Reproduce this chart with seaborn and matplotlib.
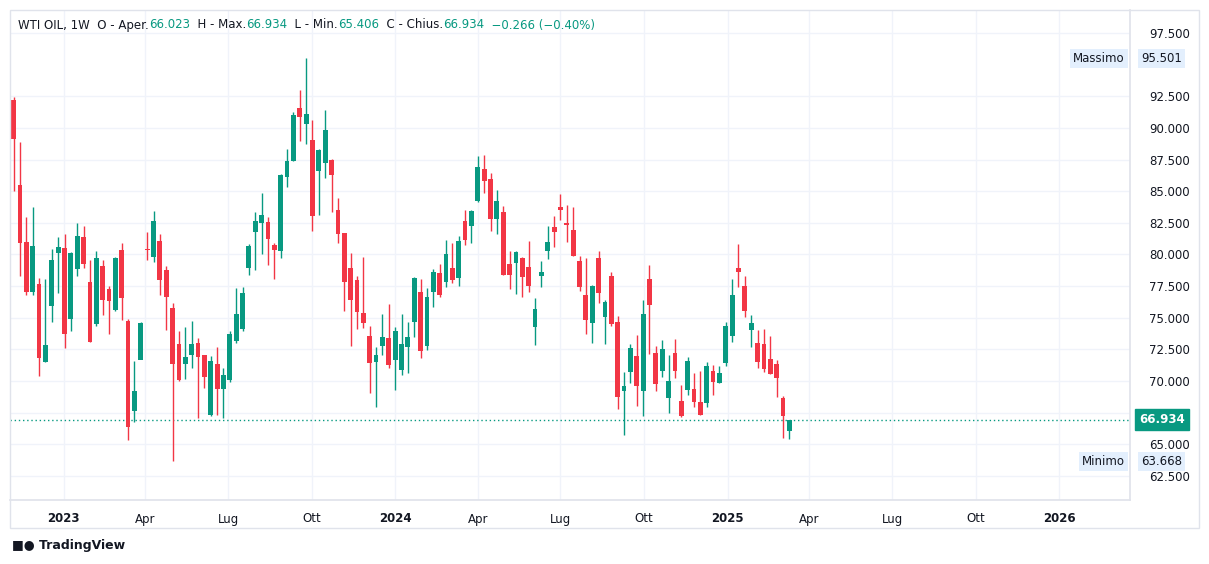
import matplotlib
matplotlib.use("Agg")
import matplotlib.pyplot as plt
import matplotlib.dates as mdates
import numpy as np
import pandas as pd
import seaborn as sns

opens = [92.24,85.53,80.97,77.03,77.63,71.5,75.92,80.1,80.55,74.92,78.84,81.42,77.79,74.5,79.13,77.24,75.61,80.39,74.71,67.63,
         71.68,80.39,79.79,81.03,78.74,75.74,72.89,71.34,72.05,72.97,72.03,67.32,71.32,69.37,70.08,73.16,74.11,78.92,81.76,82.47,
         82.55,80.74,80.26,86.11,87.37,91.61,90.29,89.03,86.58,87.21,87.5,83.55,81.66,78.97,77.97,75.34,73.55,71.5,72.76,73.39,
         71.66,70.87,72.68,74.66,77.0,72.76,77.03,78.5,77.82,78.97,78.13,82.61,82.24,84.21,86.79,86.0,82.79,83.32,79.21,79.32,
         79.76,79.05,74.26,78.29,80.26,82.16,83.74,82.47,81.97,79.45,76.76,74.58,79.76,75.05,78.34,74.63,69.21,70.71,71.97,69.21,
         78.05,72.21,70.79,68.66,72.21,68.42,69.29,69.37,68.34,68.26,70.79,69.84,71.42,73.55,78.97,77.5,74.03,73.0,72.92,71.74,
         71.34,68.66,66.023]
highs = [92.45,88.87,82.95,83.74,78.18,78.03,80.47,81.37,81.58,80.18,82.47,82.29,79.6,80.24,79.6,77.5,79.84,80.87,74.87,71.55,
         74.66,81.76,83.47,81.58,79.13,76.13,73.92,74.26,74.71,73.39,72.03,71.95,72.68,71.0,73.92,77.34,77.42,80.79,83.32,84.89,
         82.95,80.87,86.39,88.32,91.24,93.03,95.501,90.61,88.32,91.39,87.58,84.45,81.66,80.1,78.29,79.84,74.34,72.68,75.26,76.08,
         74.26,75.29,74.66,78.26,78.1,77.34,78.89,79.21,81.11,80.87,81.5,83.55,83.55,87.82,87.89,86.47,85.08,83.82,80.26,80.24,
         79.84,81.03,76.55,79.45,82.24,83.03,84.76,83.89,83.74,79.92,79.74,77.58,80.26,76.39,78.58,75.13,70.71,72.92,73.63,76.39,
         79.16,72.76,73.24,72.05,73.32,69.68,71.89,70.63,70.79,71.5,71.26,71.18,74.66,78.05,80.82,78.34,75.21,74.03,74.11,73.55,
         71.66,68.82,66.934]
lows = [85.0,78.29,76.79,76.79,70.39,71.5,74.66,76.95,72.6,73.95,78.29,78.92,73.08,74.34,75.21,73.71,75.53,74.82,65.34,66.79,
        72.16,79.55,79.39,76.79,74.03,63.668,70.0,70.16,71.03,67.08,69.42,67.24,67.32,67.08,69.92,73.0,73.95,78.37,78.76,80.03,
        79.18,78.05,79.71,85.32,87.37,88.95,88.71,81.84,83.1,86.03,83.34,80.89,75.53,72.76,74.11,74.18,69.05,67.95,72.05,71.0,
        69.29,70.47,70.63,73.47,71.82,72.45,75.84,76.63,77.42,77.74,77.5,80.74,80.89,84.13,84.84,81.84,81.61,78.37,77.26,76.87,
        76.63,77.03,72.84,77.42,79.63,80.58,82.71,80.97,79.87,77.11,73.71,72.97,76.16,72.89,74.34,67.79,65.74,69.84,68.03,67.24,
        72.13,69.21,70.32,67.47,70.24,67.16,68.89,67.95,67.32,67.95,68.89,69.84,71.18,73.08,77.42,75.05,72.68,71.03,70.71,70.55,
        68.74,65.5,65.406]
closes = [89.13,80.92,77.03,80.71,71.82,72.87,79.53,80.63,73.71,80.08,81.5,79.24,73.08,79.76,76.39,76.32,79.76,76.55,66.37,69.18,
          74.61,80.34,82.68,77.97,76.63,71.34,70.08,71.87,72.89,71.89,70.32,71.55,69.37,70.45,73.68,75.26,76.95,80.71,82.68,83.1,
          81.21,80.34,86.32,87.42,91.05,90.84,91.13,83.03,88.24,89.82,86.26,81.61,77.82,76.39,75.45,74.58,71.42,72.05,73.47,71.26,
          73.95,72.89,73.47,78.18,72.37,76.61,78.58,76.79,80.0,77.97,81.03,81.13,83.47,86.95,85.79,82.79,84.26,78.37,78.37,80.16,
          78.21,77.5,75.66,78.58,80.95,81.76,83.5,82.32,79.87,77.42,74.82,77.5,76.95,76.24,74.5,68.74,69.58,72.61,69.61,75.26,
          76.0,69.76,72.53,70.0,70.79,67.24,71.58,68.34,67.32,71.18,69.92,70.63,74.34,76.79,78.61,75.53,74.58,71.5,70.95,70.55,
          70.24,67.24,66.934]
dates = pd.date_range(end="2025-03-10", periods=len(opens), freq="7D")
yticks = [62.5, 65.0, 67.5, 70.0, 72.5, 75.0, 77.5, 80.0, 82.5, 85.0, 87.5, 90.0, 92.5, 97.5]
xtick_dates = ["2023-01-01","2023-04-01","2023-07-01","2023-10-01","2024-01-01","2024-04-01","2024-07-01","2024-10-01",
               "2025-01-01","2025-04-01","2025-07-01","2025-10-01","2026-01-01"]
xtick_labels = ["2023","Apr","Lug","Ott","2024","Apr","Lug","Ott","2025","Apr","Lug","Ott","2026"]

GREEN, RED = "#089981", "#F23645"
sns.set_theme(style="white")
df = pd.DataFrame({"date": dates, "open": opens, "high": highs, "low": lows, "close": closes})
df["up"] = df["close"] >= df["open"]

fig = plt.figure(figsize=(12.09, 5.64), dpi=100)
ax = fig.add_axes([10/1209, 64/564, 1120/1209, 490/564])
x = mdates.date2num(df["date"])
cols = np.where(df["up"], GREEN, RED)
ax.vlines(x, df["low"], df["high"], colors=cols, linewidth=1.0, zorder=3)
bottom = np.minimum(df["open"], df["close"])
height = np.maximum(np.abs(df["close"] - df["open"]), 0.1)
ax.bar(x, height, bottom=bottom, width=5.3, color=cols, zorder=4, linewidth=0)

ax.set_xlim(mdates.date2num(pd.Timestamp("2022-11-03")), mdates.date2num(pd.Timestamp("2026-03-20")))
ax.set_ylim(60.6, 99.32)
ax.yaxis.tick_right()
ax.set_yticks(yticks)
ax.set_yticklabels([f"{v:.3f}" for v in yticks], fontsize=8.5, color="#131722")
xt = mdates.date2num(pd.to_datetime(xtick_dates))
ax.set_xticks(xt)
ax.set_xticklabels(xtick_labels, fontsize=8.5, color="#131722")
for lab in ax.get_xticklabels():
    if lab.get_text().isdigit():
        lab.set_fontweight("bold")
ax.tick_params(axis="x", length=0, pad=9)
ax.tick_params(axis="y", length=0, pad=14)
ax.grid(True, color="#f0f3fa", linewidth=1)
for s in ax.spines.values():
    s.set_color("#e0e3eb")
ax.spines["left"].set_visible(False)
ax.spines["top"].set_visible(False)

last = closes[-1]
ax.axhline(last, color=GREEN, linestyle=(0, (1, 2)), linewidth=1, zorder=2)
ax.text(1.0085, last, f"{last:.3f}", transform=ax.get_yaxis_transform(), va="center", ha="left", fontsize=8.5,
        color="white", fontweight="bold", bbox=dict(boxstyle="square,pad=0.35", fc=GREEN, ec=GREEN), zorder=10)
for val, name in [(95.501, "Massimo"), (63.668, "Minimo")]:
    ax.text(1.01, val, f"{val:.3f}", transform=ax.get_yaxis_transform(), va="center", ha="left", fontsize=8.5,
            color="#131722", bbox=dict(boxstyle="square,pad=0.25", fc="#e3effd", ec="none"), clip_on=False)
    ax.text(0.9955, val, name, transform=ax.get_yaxis_transform(), va="center", ha="right", fontsize=8.5,
            color="#131722", bbox=dict(boxstyle="square,pad=0.25", fc="#e3effd", ec="none"))

fig.add_artist(plt.Rectangle((10/1209, 36/564), 1189/1209, 518/564, transform=fig.transFigure,
                             fill=False, ec="#e0e3eb", lw=1))

parts = [("WTI OIL, 1W  O - Aper.", "#131722"), ("66.023", GREEN), ("  H - Max.", "#131722"), ("66.934", GREEN),
         ("  L - Min.", "#131722"), ("65.406", GREEN), ("  C - Chius.", "#131722"), ("66.934", GREEN),
         ("  \u22120.266 (\u22120.40%)", GREEN)]
fig.canvas.draw()
xpos = 18
r = fig.canvas.get_renderer()
for t, c in parts:
    tx = fig.text(xpos/1209, 1 - 25/564, t, fontsize=8.5, color=c, va="center", ha="left")
    xpos += tx.get_window_extent(r).width
fig.text(12/1209, 18/564, "\u25A0\u25CF TradingView", fontsize=9, color="#131722", va="center", ha="left", fontweight="bold")
fig.savefig("out.png", dpi=100, facecolor="white")
